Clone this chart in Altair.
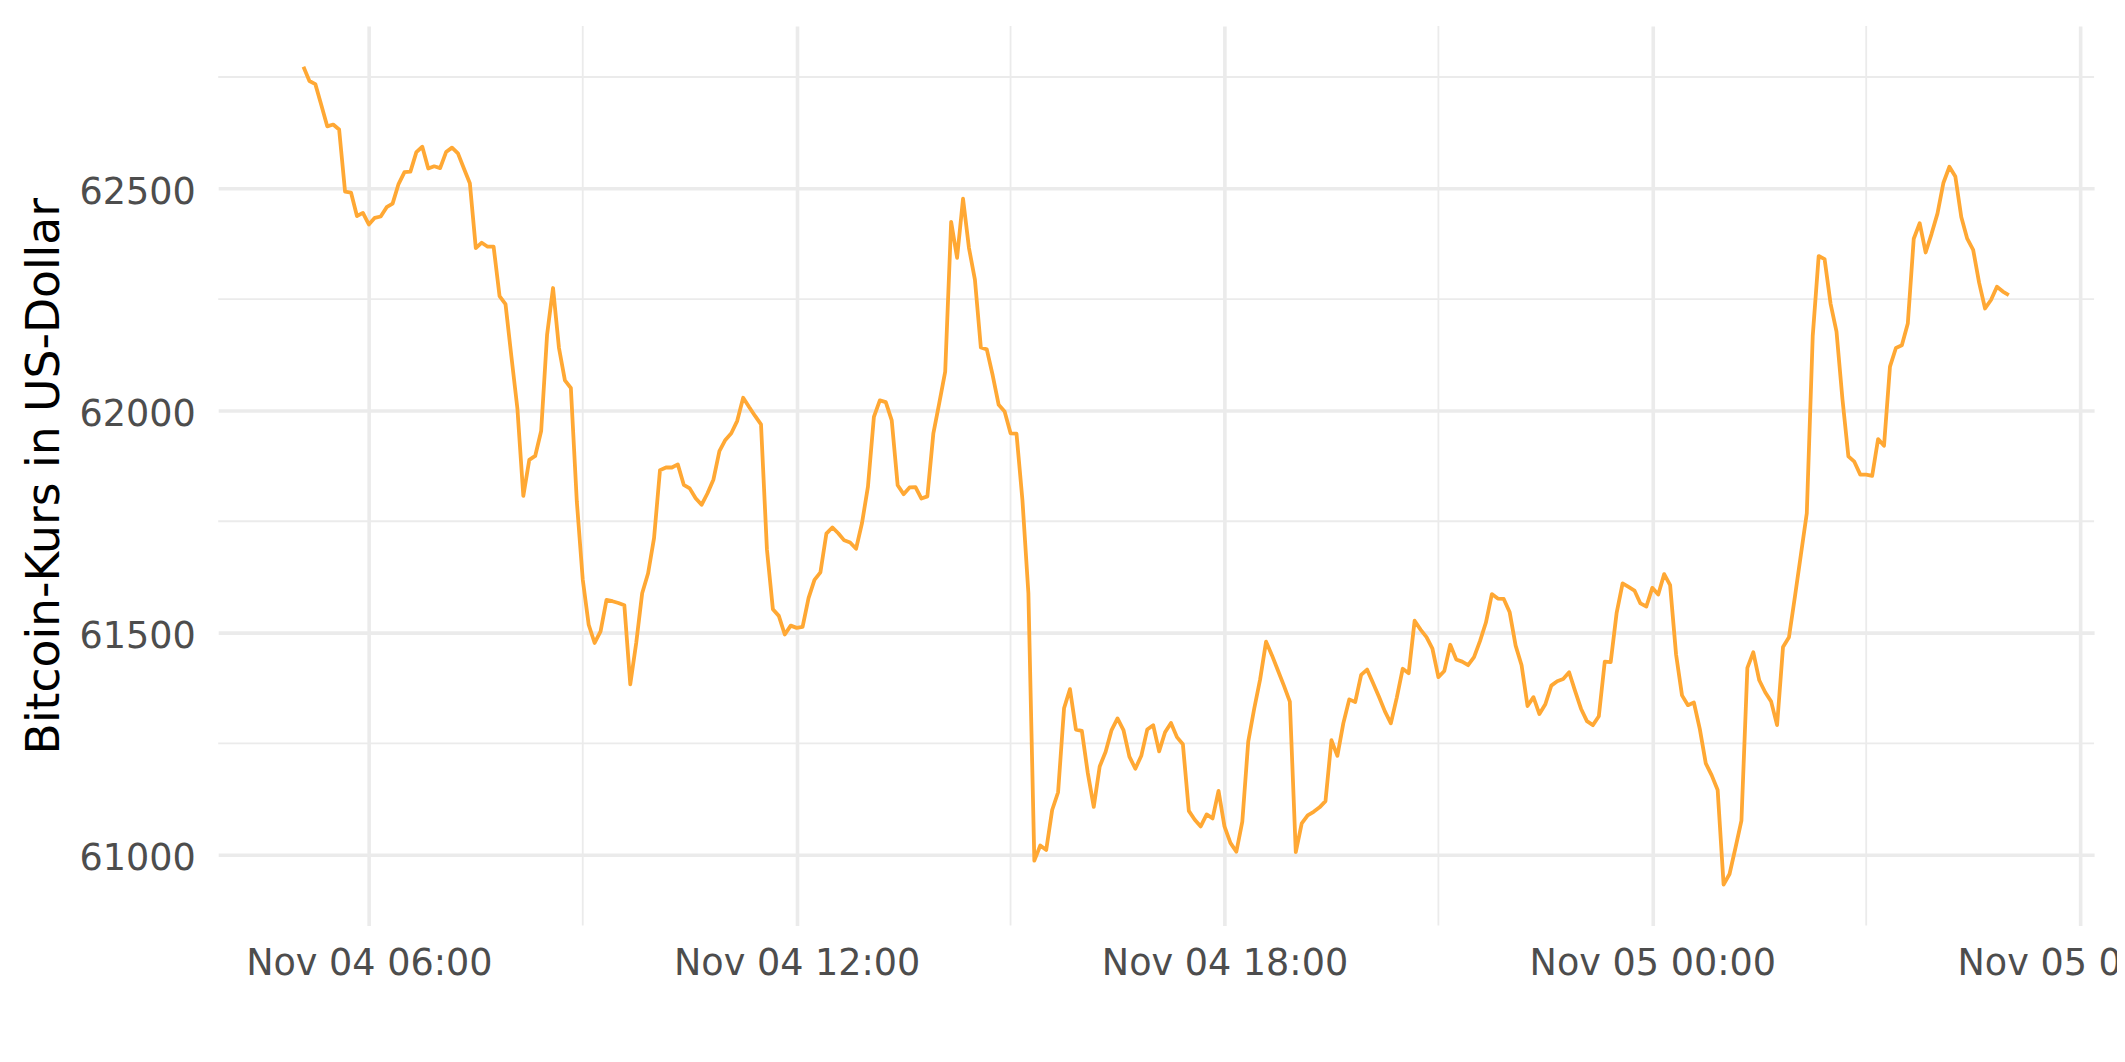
import altair as alt
import pandas as pd

# ---- data (5-minute Bitcoin prices) ----
START = "2021-11-04 05:05"
STEP = "5min"
prices = [
    62773, 62741, 62734, 62687, 62639, 62643, 62632, 62492, 62490, 62437, 62444, 62418,
    62433, 62436, 62457, 62465, 62509, 62536, 62537, 62581, 62593, 62544, 62549, 62545,
    62581, 62591, 62578, 62544, 62511, 62365, 62377, 62368, 62368, 62257, 62239, 62120,
    62004, 61807, 61888, 61897, 61953, 62170, 62275, 62140, 62067, 62050, 61795, 61619,
    61517, 61476, 61502, 61573, 61570, 61566, 61561, 61383, 61476, 61588, 61633, 61712,
    61865, 61871, 61871, 61878, 61832, 61824, 61802, 61787, 61813, 61844, 61908, 61933,
    61948, 61976, 62028, 62007, 61987, 61968, 61686, 61552, 61537, 61495, 61515, 61510,
    61512, 61577, 61618, 61635, 61722, 61736, 61723, 61707, 61702, 61688, 61746, 61828,
    61985, 62022, 62018, 61977, 61831, 61811, 61826, 61827, 61801, 61806, 61947, 62016,
    62087, 62424, 62343, 62476, 62365, 62294, 62141, 62137, 62078, 62012, 61997, 61948,
    61947, 61797, 61588, 60986, 61020, 61010, 61100, 61140, 61329, 61372, 61281, 61278,
    61183, 61107, 61198, 61231, 61280, 61306, 61280, 61220, 61193, 61222, 61281, 61291,
    61232, 61275, 61296, 61264, 61248, 61098, 61078, 61063, 61090, 61081, 61143, 61063,
    61026, 61006, 61074, 61254, 61328, 61394, 61479, 61448, 61414, 61380, 61344, 61005,
    61070, 61088, 61096, 61106, 61120, 61257, 61222, 61295, 61349, 61343, 61404, 61416,
    61386, 61355, 61322, 61295, 61353, 61418, 61408, 61526, 61506, 61489, 61463, 61399,
    61413, 61472, 61439, 61434, 61426, 61444, 61480, 61522, 61586, 61576, 61575, 61545,
    61470, 61426, 61334, 61354, 61316, 61338, 61380, 61390, 61395, 61410, 61368, 61328,
    61300, 61291, 61311, 61434, 61433, 61544, 61610, 61602, 61594, 61565, 61558, 61600,
    61585, 61631, 61606, 61450, 61358, 61336, 61342, 61282, 61205, 61178, 61145, 60932,
    60956, 61015, 61076, 61420, 61455, 61392, 61365, 61344, 61291, 61467, 61489, 61580,
    61674, 61768, 62167, 62347, 62340, 62240, 62177, 62025, 61896, 61884, 61855, 61855,
    61852, 61935, 61920, 62098, 62140, 62146, 62195, 62386, 62421, 62355, 62397, 62443,
    62512, 62548, 62526, 62435, 62386, 62361, 62287, 62229, 62248, 62278, 62267, 62259,
]

# axis breaks
major_x = [(2021, 11, 4, 6), (2021, 11, 4, 12), (2021, 11, 4, 18), (2021, 11, 5, 0), (2021, 11, 5, 6)]
minor_x = ["2021-11-04 09:00", "2021-11-04 15:00", "2021-11-04 21:00", "2021-11-05 03:00"]
major_y = [61000, 61500, 62000, 62500]
minor_y = [61250, 61750, 62250, 62750]
x_lim = [(2021, 11, 4, 3, 53, 15), (2021, 11, 5, 6, 11, 45)]
y_lim = [60840, 62865]

Y_TITLE = "Bitcoin-Kurs in US-Dollar"

# ---- styling ----
LINE_COLOR = "#FFA834"
GRID = "#EBEBEB"
FONT = "DejaVu Sans"
LABEL_SIZE = 36.7
TITLE_SIZE = 45.8
W, H = 1883, 903


def dt(t):
    y, mo, d, h = t[:4]
    mi = t[4] if len(t) > 4 else 0
    s = t[5] if len(t) > 5 else 0
    return alt.DateTime(year=y, month=mo, date=d, hours=h, minutes=mi, seconds=s)


df = pd.DataFrame({
    "time": pd.date_range(START, periods=len(prices), freq=STEP),
    "price": prices,
})
minor_x_df = pd.DataFrame({"time": pd.to_datetime(minor_x)})
minor_y_df = pd.DataFrame({"price": minor_y})

xscale = alt.Scale(domain=[dt(x_lim[0]), dt(x_lim[1])], nice=False)
yscale = alt.Scale(domain=y_lim, nice=False, zero=False)

x_axis = alt.Axis(
    values=[dt(t) for t in major_x],
    format="%b %d %H:%M",
    title=None,
    grid=True,
    gridColor=GRID,
    gridWidth=3.6,
    domain=False,
    ticks=False,
    tickSize=0,
    labelFont=FONT,
    labelFontSize=LABEL_SIZE,
    labelColor="#4D4D4D",
    labelPadding=49,
    labelBaseline="alphabetic",
    labelAlign="center",
    labelFlush=False,
    labelOverlap=False,
    labelLimit=0,
)
y_axis = alt.Axis(
    values=major_y,
    format="d",
    title=Y_TITLE,
    grid=True,
    gridColor=GRID,
    gridWidth=3.6,
    domain=False,
    ticks=False,
    tickSize=0,
    labelFont=FONT,
    labelFontSize=LABEL_SIZE,
    labelColor="#4D4D4D",
    labelPadding=23,
    labelBaseline="middle",
    labelOffset=4,
    labelOverlap=False,
    labelLimit=0,
    titleFont=FONT,
    titleFontSize=TITLE_SIZE,
    titleFontWeight="normal",
    titleColor="#000000",
    titleAngle=270,
    titleAlign="center",
    titleBaseline="alphabetic",
    titleX=-160.7,
    titleY=H / 2,
    titleLimit=0,
)

X = alt.X("time:T", scale=xscale, axis=x_axis)
Y = alt.Y("price:Q", scale=yscale, axis=y_axis)

minor_x_rules = alt.Chart(minor_x_df).mark_rule(color=GRID, strokeWidth=1.8).encode(x=X)
minor_y_rules = alt.Chart(minor_y_df).mark_rule(color=GRID, strokeWidth=1.8).encode(y=Y)

line = alt.Chart(df).mark_line(color=LINE_COLOR, strokeWidth=3.8, strokeJoin="round").encode(x=X, y=Y)

chart = alt.layer(minor_x_rules, minor_y_rules, line).properties(
    width=W,
    height=H,
    padding={"left": 211, "top": 16, "right": 23, "bottom": 126},
    autosize=alt.AutoSizeParams(type="none"),
    background="white",
).configure_view(strokeWidth=0)

chart.save("out.html", embed_options={"renderer": "svg", "actions": False})
